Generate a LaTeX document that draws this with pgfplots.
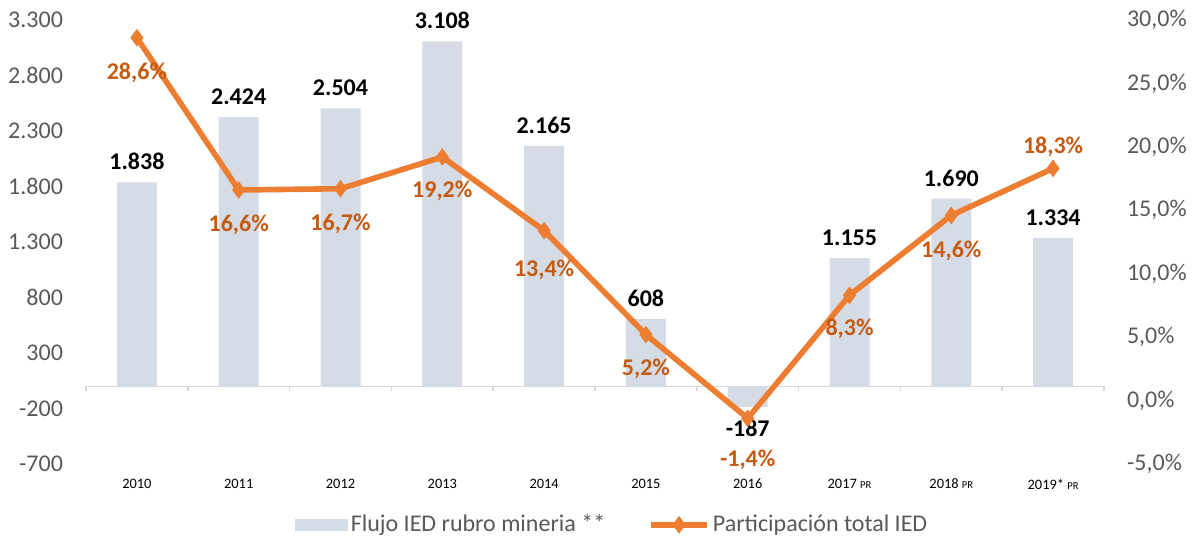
\documentclass[border=0pt]{standalone}
\usepackage{pgfplots}
\pgfplotsset{compat=1.18}
\usepackage{fontspec}
\setmainfont{Carlito}
\definecolor{barcol}{HTML}{D6DCE5}
\definecolor{linecol}{HTML}{ED7D31}
\definecolor{lblcol}{HTML}{C55A11}
\definecolor{tickcol}{HTML}{595959}
\definecolor{axcol}{HTML}{D9D9D9}
\pgfplotsset{/pgf/number format/assume math mode=true,
  linelegend/.style={legend image code/.code={\draw[mark repeat=2,mark phase=2,##1] plot coordinates {(0pt,0pt) (14pt,0pt) (28pt,0pt)};}}}
\begin{document}
\begin{tikzpicture}
\path[use as bounding box] (-43pt,-36.5pt) rectangle (555pt,232pt);
\begin{axis}[
  scale only axis, width=509pt, height=222pt,
  xmin=-0.5, xmax=9.5,
  ymin=-700, ymax=3300,
  ytick={-700,-200,300,800,1300,1800,2300,2800,3300},
  scaled ticks=false,
  yticklabel style={/pgf/number format/fixed, /pgf/number format/precision=0, /pgf/number format/1000 sep={.}},
  xtick={0,...,9},
  xticklabels={2010,2011,2012,2013,2014,2015,2016,{2017 {\fontsize{5.3}{6}\selectfont PR}},{2018 {\fontsize{5.3}{6}\selectfont PR}},{2019* {\fontsize{5.3}{6}\selectfont PR}}},
  x tick label style={font=\fontsize{7.2}{8}\selectfont, color=black, yshift=-4pt},
  y tick label style={font=\fontsize{12}{14}\selectfont, color=tickcol, xshift=-8pt},
  axis y line*=left,
  axis x line*=bottom,
  y axis line style={draw=none},
  x axis line style={draw=none},
  major tick length=0pt,
  ybar, bar width=20pt,
  nodes near coords={\pgfmathprintnumber[fixed,precision=0,1000 sep={.}]{\pgfplotspointmeta}},
  every node near coord/.append style={font=\bfseries\fontsize{12}{14}\selectfont, color=black, inner sep=6pt},
  clip=false,
]
\draw[axcol, line width=0.8pt] (axis cs:-0.5,0) -- (axis cs:9.5,0);
\pgfplotsinvokeforeach{-0.5,0.5,1.5,2.5,3.5,4.5,5.5,6.5,7.5,8.5,9.5}{
  \draw[axcol, line width=0.8pt] (axis cs:#1,0) -- ([yshift=-2.5pt]axis cs:#1,0);
}
\addplot[fill=barcol, draw=none] coordinates {
(0,1838) (1,2424) (2,2504) (3,3108) (4,2165) (5,608) (6,-187) (7,1155) (8,1690) (9,1334)
};
\end{axis}
\begin{axis}[
  scale only axis, width=509pt, height=222pt,
  xmin=-0.5, xmax=9.5,
  ymin=-5, ymax=30,
  ytick={-5,0,5,10,15,20,25,30},
  yticklabel={\pgfmathprintnumber[fixed,fixed zerofill,precision=1,use comma]{\tick}\%},
  y tick label style={font=\fontsize{12}{14}\selectfont, color=tickcol, xshift=8pt},
  axis y line*=right,
  axis x line=none,
  y axis line style={draw=none},
  major tick length=0pt,
  clip=false,
  legend style={at={(0.2053,-0.137)}, anchor=west, legend columns=2, draw=none,
    inner sep=0pt, outer sep=0pt,
    font=\fontsize{12}{14}\selectfont, text=tickcol,
    nodes={inner sep=1.5pt},
    /tikz/every even column/.append style={column sep=20pt}},
]
\addlegendimage{legend image code/.code={\fill[barcol] (0pt,-2.75pt) rectangle (26pt,2.75pt);}}
\addlegendentry{Flujo IED rubro mineria **}
\addplot[color=linecol, line width=2.8pt, mark=diamond*, mark size=4pt,
  mark options={solid, fill=linecol, line width=0.5pt},
  point meta=y, linelegend,
  visualization depends on={\thisrow{dy} \as \dy},
  nodes near coords={\pgfmathprintnumber[fixed,fixed zerofill,precision=1,use comma]{\pgfplotspointmeta}\%},
  every node near coord/.append style={anchor=center, yshift=\dy pt, font=\bfseries\fontsize{12}{14}\selectfont, color=lblcol},
] table {
x y dy
0 28.6 -17.5
1 16.6 -17.5
2 16.7 -17.5
3 19.2 -17
4 13.4 -19.5
5 5.2 -17
6 -1.4 -21
7 8.3 -17
8 14.6 -17.5
9 18.3 11
};
\addlegendentry{Participación total IED}
\end{axis}
\end{tikzpicture}
\end{document}
